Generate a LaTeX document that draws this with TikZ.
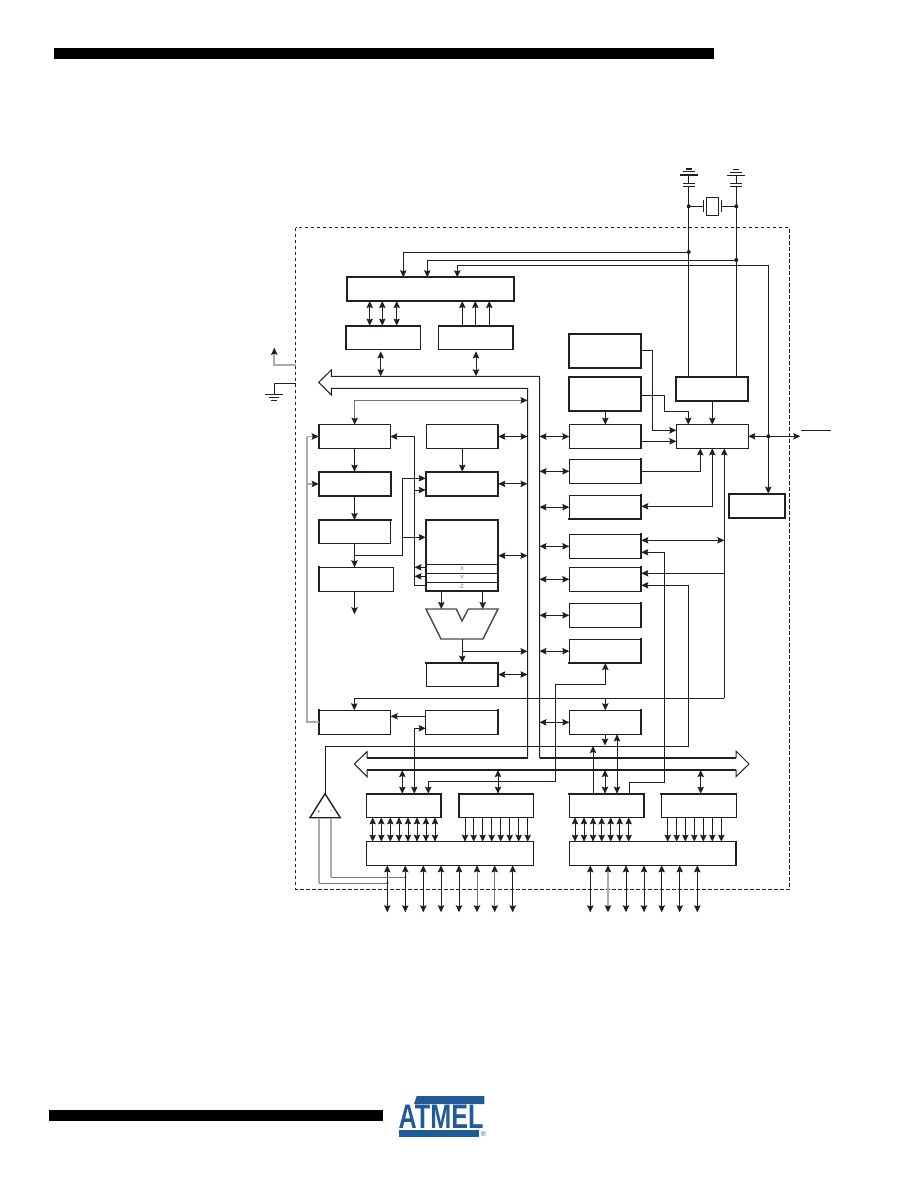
\documentclass[tikz,border=0pt]{standalone}
\usepackage{fontspec}
\usepackage{graphicx}
\setmainfont{Liberation Sans}
\usetikzlibrary{arrows.meta}
\definecolor{ink}{HTML}{231F20}
\definecolor{pale}{HTML}{ABABAB}
\definecolor{mid}{HTML}{777777}
\definecolor{slate}{HTML}{4A4A4A}
\definecolor{logoblue}{HTML}{1F5A99}
\tikzset{
  hd/.tip={Stealth[length=7pt,width=6.4pt,inset=1pt,color=ink]},
  link/.style={draw=ink,line width=.9pt},
  one/.style={link,-hd},
  both/.style={link,hd-hd},
  gl/.style={draw=pale,line width=1.8pt},
  gm/.style={draw=mid,line width=1pt},
  blk/.style={draw=ink,line width=.9pt,inner sep=0pt,outer sep=0pt,fill=none},
  side/.style={draw=ink,line width=1.9pt,line cap=rect},
  hT/.style={append after command={(\tikzlastnode.north west) edge[side] (\tikzlastnode.north east)}},
  hB/.style={append after command={(\tikzlastnode.south west) edge[side] (\tikzlastnode.south east)}},
  hL/.style={append after command={(\tikzlastnode.north west) edge[side] (\tikzlastnode.south west)}},
  hR/.style={append after command={(\tikzlastnode.north east) edge[side] (\tikzlastnode.south east)}},
  hAll/.style={line width=1.8pt},
  dot/.style={circle,fill=ink,inner sep=0pt,minimum size=4pt},
  reg/.style={font=\fontsize{6}{6}\selectfont,text=mid,inner sep=0pt},
  pol/.style={font=\fontsize{5.5}{5.5}\selectfont,text=ink,inner sep=0pt},
  plate/.style={draw=ink,line width=1.5pt},
  hair/.style={draw=ink,line width=.8pt}
}
% block given by its corners: name, x1, y1, x2, y2, style
\newcommand\chipblk[6]{\node[blk,#6,minimum width={(#4-#2)*1pt},minimum height={(#5-#3)*1pt}] (#1) at ({(#2+#4)/2},{(#3+#5)/2}) {};}
\begin{document}
\begin{tikzpicture}[x=1pt,y=-1pt]
\useasboundingbox (0,0) rectangle (918,1188);
\fill[white] (0,0) rectangle (918,1188);

% page furniture
\fill[black] (54,48) rectangle (714,59);
\fill[black] (49,1110) rectangle (383,1121);
\fill[logoblue] (416.7,1096) -- (484.3,1096) -- (484.3,1104) -- (414,1104) -- cycle;
\fill[logoblue] (399,1130) rectangle (479,1136.7);
\node[anchor=base,text=logoblue,inner sep=0pt] (logoname) at (441,1128) {\scalebox{.74}[1]{\fontsize{34}{34}\bfseries\selectfont ATMEL}};
\node[text=logoblue,inner sep=0pt,font=\fontsize{7}{7}\selectfont] (logoreg) at (483.5,1134.5) {®};

% chip outline
\draw[ink,line width=1pt,dash pattern=on 3.6pt off 2.4pt] (295.7,227.7) rectangle (789.3,889.3);

% blocks
\chipblk{top}{346.7}{277.3}{514}{301}{hAll}
\chipblk{a}{346}{325.7}{420}{349.3}{hT,hL}
\chipblk{b}{438.7}{325.7}{513}{349.3}{hT,hR}
\chipblk{c}{318.7}{424.7}{390.3}{448.3}{hL}
\chipblk{d}{426.3}{424.7}{498.3}{448.3}{hR}
\chipblk{e}{318.7}{471.7}{390.7}{496}{hAll}
\chipblk{f}{425.7}{471.7}{498.3}{496}{hAll}
\chipblk{g}{318.7}{520}{390.7}{543.3}{hT,hL}
\chipblk{h}{425.7}{520}{498.3}{591.3}{hAll}
\chipblk{i}{318.7}{567.3}{393.3}{591.3}{hL}
\chipblk{j}{426.3}{662.7}{498.3}{686.3}{hT,hR}
\chipblk{k}{318.7}{710.3}{390.7}{734.3}{hL}
\chipblk{l}{425.7}{710.3}{498.3}{734.3}{hR}
\chipblk{m}{366.7}{793.7}{441.3}{817.3}{hT,hR}
\chipblk{n}{458.7}{793.7}{533.3}{817.3}{hT,hL}
\chipblk{o}{366.7}{841.7}{533.3}{865.3}{}
\chipblk{p}{569.3}{793.7}{644.3}{817.3}{hT,hR}
\chipblk{q}{661.3}{793.7}{736.3}{817.3}{hT}
\chipblk{r}{569.3}{841.7}{736.3}{865.3}{hR}
\chipblk{s}{569.3}{710.3}{641.3}{734.3}{hR}
\chipblk{t}{569.3}{459.3}{641.3}{483.3}{hR}
\chipblk{u}{569.3}{495.3}{641.3}{519}{hB,hR}
\chipblk{v}{569.3}{534.3}{641.3}{558.3}{hR}
\chipblk{w}{569.3}{567.3}{641.3}{591.3}{hR}
\chipblk{xb}{569.3}{603.3}{641.3}{627.3}{hR}
\chipblk{yb}{569.3}{639.3}{641.3}{663}{hR,hB}
\chipblk{zz}{728.7}{493.7}{785.3}{518.3}{hAll}
\chipblk{aa}{569.3}{333.7}{641.3}{368.3}{hAll}
\chipblk{ab}{569.3}{376.7}{641.3}{411.3}{hAll}
\chipblk{ac}{569.3}{424.7}{641.3}{448.3}{hR}
\chipblk{ad}{676.3}{376.7}{748.3}{401.3}{hAll}
\chipblk{ae}{676.3}{424.7}{748.3}{448.3}{}

% pointer registers at the foot of the register file
\draw[hair] (425.7,564.3) -- (498.3,564.3) (425.7,573.3) -- (498.3,573.3) (425.7,582.3) -- (498.3,582.3);
\node[reg] (rx) at (462,568.8) {X};
\node[reg] (ry) at (462,577.8) {Y};
\node[reg] (rz) at (462,586.8) {Z};

% arithmetic unit
\draw[draw=slate,line width=1.4pt,line join=miter] (426,609) -- (456.3,609) -- (462,621) -- (468.3,609) -- (498,609) -- (483,639) -- (441,639) -- cycle;
\coordinate (aluL) at (441.3,609);
\coordinate (aluR) at (482.7,609);
\coordinate (aluO) at (462.3,639);

% comparator
\draw[ink,line width=1.4pt,line join=miter] (325,793.7) -- (340.3,817.7) -- (310,817.7) -- cycle;
\coordinate (cmpTop) at (325,793.7);
\node[pol] (cmpP) at (319,812) {+};
\node[pol] (cmpN) at (331.3,812) {-};

% data bus with its three heads
\draw[ink,line width=1pt,line join=miter] (331.3,376.3) -- (331.3,370) -- (318.7,382.3) -- (331.3,395) -- (331.3,388.3) -- (527.5,388.3) -- (527.5,757.7) -- (367,757.7) -- (367,751.7) -- (354.3,764) -- (367,776.7) -- (367,770) -- (736,770) -- (736,776.7) -- (749,764) -- (736,751) -- (736,757.7) -- (539.5,757.7) -- (539.5,376.3) -- cycle;
\draw[ink,line width=1.8pt] (367,757.7) -- (527.5,757.7) (539.5,757.7) -- (736,757.7) (367,770) -- (736,770);
\coordinate (busL) at (527.5,0);
\coordinate (busR) at (539.5,0);
\coordinate (busT) at (0,376.3);
\coordinate (busB) at (0,770);

% supply rails and crystal
\node[dot] (v1) at (688.7,206.3) {};
\node[dot] (g1) at (736.3,206.3) {};
\node[dot] (v2) at (688.7,252) {};
\node[dot] (g2) at (736.3,260) {};
\node[dot] (rst) at (768.3,436.3) {};
\coordinate (capV) at (688.7,186.3);
\coordinate (capG) at (736.3,186.3);
\draw[link] (capV) -- (v1.center) -- (v2.center) -- (688.7,0 |- ad.north);
\draw[link] (capG) -- (g1.center) -- (g2.center) -- (736.3,0 |- ad.north);
\draw[plate] (683,186.3) -- (695,186.3) (683,183.7) -- (695,183.7);
\draw[plate] (730,186.3) -- (742,186.3) (730,183.7) -- (742,183.7);
\draw[link] (688.7,183.7) -- (688.7,175);
\draw[link] (736.3,183.7) -- (736.3,175.3);
\draw[plate] (680,175) -- (697.7,175) (683.3,171.7) -- (695,171.7) (686,169) -- (692,169);
\draw[hair] (727,175.3) -- (745,175.3) (730.3,172.3) -- (741.7,172.3) (733.3,169.3) -- (739,169.3);
\node[draw=ink,line width=.9pt,inner sep=0pt,minimum width=12.4pt,minimum height=18pt] (xtal) at (712.5,206.3) {};
\coordinate (xL) at (703.3,206.3);
\coordinate (xR) at (721.3,206.3);
\draw[link] (703.3,200) -- (703.3,212.3) (721.3,200) -- (721.3,212.3);
\draw[link] (v1.center) -- (xL) (xR) -- (g1.center);

% rails into the top block
\draw[one] (v2.center) -| (403.3,0 |- top.north);
\draw[one] (g2.center) -| (427.3,0 |- top.north);
\draw[link] (457.3,265.3) -- (768.3,265.3) -- (rst.center);
\draw[one] (457.3,265.3) -- (457.3,0 |- top.north);
\draw[one] (rst.center) -- (768.3,0 |- zz.north);
\draw[both] (ae.east |- rst) -- (800.3,436.3);
\draw[hair] (801,430.3) -- (831,430.3);

% top block links
\foreach \px in {369.7,382.3,396.7} \draw[both] (\px,0 |- top.south) -- (\px,0 |- a.north);
\foreach \px in {462.3,475.3,489.3} \draw[one] (\px,0 |- b.north) -- (\px,0 |- top.south);
\draw[both,shorten <=2pt] (380.7,0 |- a.south) -- (380.7,0 |- busT);
\draw[both,shorten <=2pt] (476,0 |- b.south) -- (476,0 |- busT);

% instruction path, left column
\draw[gm,hd-hd] (354.7,0 |- c.north) -- (354.7,400.3) -- (527.5,400.3);
\draw[one] (354.5,0 |- c.south) -- (354.5,0 |- e.north);
\draw[one] (354.5,0 |- e.south) -- (354.5,0 |- g.north);
\draw[one] (354.5,0 |- g.south) -- (354.5,0 |- i.north);
\draw[one] (354.5,0 |- i.south) -- (354.5,614.3);
\draw[link] (354.5,555.3) -- (402.3,555.3) -- (402.3,478.3);
\draw[one] (402.3,478.3) -- (f.west |- 0,478.3);
\draw[one] (402.3,537.3) -- (h.west |- 0,537.3);
\draw[gl] (k.west) -- (307,722.3) -- (307,436.5);
\draw[gl,-hd] (307,436.5) -- (c.west);
\draw[gl,-hd] (307,484) -- (e.west);
\draw[one] (l.west |- 0,716.3) -- (k.east |- 0,716.3);

% register file and its pointers
\draw[one] (414.5,436.5) -- (c.east);
\draw[link] (414.5,436.5) -- (414.5,585.3) -- (h.west |- 0,585.3);
\draw[one] (414.5,490) -- (f.west |- 0,490);
\draw[one] (h.west |- 0,567.3) -- (414.5,567.3);
\draw[one] (h.west |- 0,576.3) -- (414.5,576.3);
\draw[one] (462.3,0 |- d.south) -- (462.3,0 |- f.north);
\draw[one] (441.3,0 |- h.south) -- (aluL);
\draw[one] (482.7,0 |- h.south) -- (aluR);
\draw[one] (aluO) -- (462.3,0 |- j.north);
\draw[one] (462.3,651.3) -- (527.5,651.3);

% links to the bus from the middle column
\draw[both] (d.east) -- (d.east -| busL);
\draw[both] (f.east) -- (f.east -| busL);
\draw[both] (h.east) -- (h.east -| busL);
\draw[both] (j.east) -- (j.east -| busL);

% links to the bus from the right column
\foreach \nd in {ac,t,u,v,w,xb,yb,s} \draw[both] (\nd.west) -- (\nd.west -| busR);

% reset and clock fan-in
\draw[one] (aa.east |- 0,350.3) -- (652.3,350.3) -- (652.3,430.3) -- (ae.west |- 0,430.3);
\draw[one] (ab.east |- 0,395.3) -- (664.3,395.3) -- (664.3,411.3) -- (688.3,411.3) -- (688.3,0 |- ae.north);
\draw[one] (605.3,0 |- ab.south) -- (605.3,0 |- ac.north);
\draw[one] (ac.east |- 0,441.3) -- (ae.west |- 0,441.3);
\draw[one] (712.3,0 |- ad.south) -- (712.3,0 |- ae.north);
\draw[one] (t.east) -- (700.3,471.3) -- (700.3,0 |- ae.south);
\draw[both] (u.east |- 0,506.3) -- (712.3,506.3) -- (712.3,0 |- ae.south);
\draw[one] (354.3,698.3) -- (354.3,0 |- k.north);
\draw[link] (354.3,698.3) -- (724.3,698.3);
\draw[one] (724.3,698.3) -- (724.3,0 |- ae.south);
\draw[both] (v.east |- 0,540.3) -- (724.3,540.3);
\draw[one] (724.3,573.3) -- (w.east |- 0,573.3);
\draw[one] (605.3,698.3) -- (605.3,0 |- s.north);

% long runs that cross the bus
\draw[one] (629.3,0 |- p.north) -- (629.3,782.3) -- (664.3,782.3) -- (664.3,552.3) -- (v.east |- 0,552.3);
\draw[one] (cmpTop) -- (325,746.3) -- (688.3,746.3) -- (688.3,585.3) -- (w.east |- 0,585.3);
\draw[one] (428.3,781.7) -- (428.3,0 |- m.north);
\draw[one] (428.3,781.7) -- (555.3,781.7) -- (555.3,684.3) -- (605.3,684.3) -- (605.3,0 |- yb.south);
\draw[both] (414.3,0 |- m.north) -- (414.3,728.3) -- (l.west |- 0,728.3);

% serial block and the lower bus
\draw[one] (605,0 |- s.south) -- (605,745.5);
\draw[both] (617,0 |- p.north) -- (617,0 |- s.south);
\draw[one] (593,0 |- p.north) -- (593,746);
\draw[both] (605,0 |- busB) -- (605,0 |- p.north);
\draw[both] (700.7,0 |- busB) -- (700.7,0 |- q.north);
\draw[both] (402.3,0 |- busB) -- (402.3,0 |- m.north);
\draw[both] (498,0 |- busB) -- (498,0 |- n.north);

% port fans
\foreach \px in {372.7,381.3,390.3,399,408,417,426,435} \draw[both] (\px,0 |- m.south) -- (\px,0 |- o.north);
\foreach \px in {465,473.7,482.7,491.7,500.7,509.7,518.7,527.7} \draw[one] (\px,0 |- n.south) -- (\px,0 |- o.north);
\foreach \px in {575,584,593,601.7,610.7,619.7,628.7} \draw[both] (\px,0 |- p.south) -- (\px,0 |- r.north);
\foreach \px in {667.7,676.7,685.3,694.3,703.3,712.3,721.3} \draw[one] (\px,0 |- q.south) -- (\px,0 |- r.north);

% package pins
\foreach \px in {387.3,405.3,423.3,441,459,512.7} \draw[both] (\px,0 |- o.south) -- (\px,912.3);
\foreach \px in {477,494.7} \draw[both,draw=mid] (\px,0 |- o.south) -- (\px,912.3);
\foreach \px in {590.3,626,644,661.7,679.7,697.3} \draw[both] (\px,0 |- r.south) -- (\px,912.3);
\draw[both,draw=pale,line width=1.2pt] (608,0 |- r.south) -- (608,912.3);

% comparator inputs from the first two pins
\node[dot,minimum size=2.5pt] (pinA) at (387.3,883) {};
\node[dot,minimum size=2.5pt] (pinB) at (405.3,877.3) {};
\draw[gl] (319,817.7) -- (319,883);
\draw[gm] (319,883) -- (pinA.center);
\draw[gl] (331,817.7) -- (331,877.3);
\draw[gm] (331,877.3) -- (pinB.center);

% supply leads outside the outline
\coordinate (leadP) at (295.7,364.7);
\coordinate (leadG) at (295.7,383.3);
\draw[gl] (leadP) -- (274.3,364.7) -- (274.3,352);
\draw[gl,-hd] (274.3,356) -- (274.3,347.7);
\draw[link] (leadG) -- (274.3,383.3) -- (274.3,394.3);
\draw[hair] (265.3,394.3) -- (282.7,394.3) (268.7,397.3) -- (279.3,397.3) (271.3,400) -- (276.7,400);
\end{tikzpicture}
\end{document}
